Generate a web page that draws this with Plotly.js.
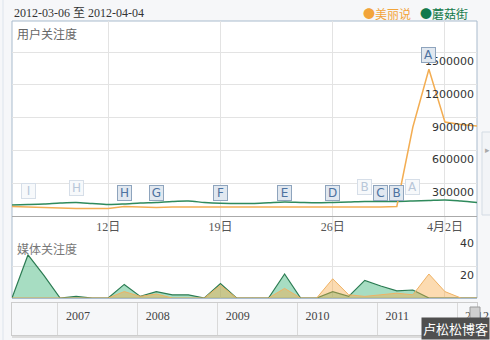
<!DOCTYPE html>
<html><head><meta charset="utf-8">
<script src="https://cdn.plot.ly/plotly-3.0.1.min.js"></script>
<style>html,body{margin:0;padding:0;background:#f6f7f9;}#chart{width:490px;height:340px;}</style>
</head><body><div id="chart"></div>
<script>
// ---- data ----
const dates = ['2012-03-06','2012-03-07','2012-03-08','2012-03-09','2012-03-10','2012-03-11','2012-03-12','2012-03-13','2012-03-14','2012-03-15',
  '2012-03-16','2012-03-17','2012-03-18','2012-03-19','2012-03-20','2012-03-21','2012-03-22','2012-03-23','2012-03-24','2012-03-25',
  '2012-03-26','2012-03-27','2012-03-28','2012-03-29','2012-03-30','2012-03-31','2012-04-01','2012-04-02','2012-04-03','2012-04-04'];
const seriesNames = ['美丽说','蘑菇街'];
// 用户关注度 (user attention)
const meilishuoUser = [87000,82000,73000,69000,69000,69000,69000,87000,82000,78000,
  82000,82000,78000,82000,82000,82000,80000,78000,78000,78000,
  78000,78000,80000,82000,87000,815000,1344000,861000,838000,824000];
const moguUser = [101000,105000,110000,119000,124000,114000,105000,110000,119000,124000,
  133000,137000,124000,116000,114000,114000,121000,128000,124000,121000,
  124000,128000,133000,133000,133000,137000,142000,147000,137000,124000];
// 媒体关注度 (media attention)
const meilishuoMedia = [0,0,0,0,0,0,0,4,1,2.5,0,0,0,8,0,0,0,6,0,0,12,2,1,2,3,2,15,4,0,0];
const moguMedia = [0,27,14,0,1,0,0,8.5,1,4,2,2,0,9,0,0,0,15,0,0,4,1,11,7.5,4.5,5,0,0,0,0];
// events
const eventLabels = ['I','H','H','G','F','E','D','B','C','B','A','A'];
const eventDates = ['2012-03-07','2012-03-10','2012-03-13','2012-03-15','2012-03-19','2012-03-23','2012-03-26','2012-03-28','2012-03-29','2012-03-30','2012-03-31','2012-04-01'];
const eventSeries = ['蘑菇街','蘑菇街','美丽说','美丽说','美丽说','美丽说','美丽说','蘑菇街','美丽说','美丽说','蘑菇街','美丽说'];
// axis ticks
const dayTicks = ['2012-03-12','2012-03-19','2012-03-26','2012-04-02'];
const dayTickText = ['12日','19日','26日','4月2日'];
const userTicks = [300000,600000,900000,1200000,1500000];
const mediaTicks = [20,40];
const yearTicks = ['2007-01-01','2008-01-01','2009-01-01','2010-01-01','2011-01-01','2012-01-01'];
const yearText = ['2007','2008','2009','2010','2011','2012'];
const titleText = '2012-03-06 至 2012-04-04';

// ---- styles ----
const W = 490, H = 340;
const px = v => v / W, py = v => 1 - v / H;
const ORANGE = '#f3ad52', GREEN = '#2f8a5c';
const serif = 'Liberation Serif, Noto Sans CJK SC, serif';
const cjk = 'Noto Sans CJK SC, sans-serif';
const num = 'DejaVu Sans, Verdana, sans-serif';

const traces = [
  {x: dates, y: moguUser, type: 'scatter', mode: 'lines', name: seriesNames[1], xaxis: 'x', yaxis: 'y',
   line: {color: GREEN, width: 1.5, shape: 'spline', smoothing: 0.8}, showlegend: false, hoverinfo: 'skip'},
  {x: dates, y: meilishuoUser, type: 'scatter', mode: 'lines', name: seriesNames[0], xaxis: 'x', yaxis: 'y',
   line: {color: ORANGE, width: 1.5}, showlegend: false, hoverinfo: 'skip'},
  {x: dates, y: moguMedia, type: 'scatter', mode: 'lines', name: seriesNames[1], xaxis: 'x2', yaxis: 'y2',
   fill: 'tozeroy', fillcolor: 'rgba(60,180,120,0.45)', line: {color: '#2b7b52', width: 1.2}, showlegend: false, hoverinfo: 'skip'},
  {x: dates, y: meilishuoMedia, type: 'scatter', mode: 'lines', name: seriesNames[0], xaxis: 'x2', yaxis: 'y2',
   fill: 'tozeroy', fillcolor: 'rgba(248,170,70,0.42)', line: {color: '#efb264', width: 1}, showlegend: false, hoverinfo: 'skip'},
  {x: [], y: [], type: 'scatter', xaxis: 'x3', yaxis: 'y3', showlegend: false}
];

const seriesMap = {'美丽说': meilishuoUser, '蘑菇街': moguUser};
const annotations = [];
eventLabels.forEach((lab, i) => {
  const idx = dates.indexOf(eventDates[i]);
  const bold = eventSeries[i] === '美丽说';
  annotations.push({
    x: eventDates[i], y: seriesMap[eventSeries[i]][idx], xref: 'x', yref: 'y',
    text: lab, showarrow: false, yanchor: 'bottom', yshift: 6,
    width: 11, height: 12, borderpad: 1, borderwidth: 1,
    bgcolor: bold ? '#e1e8f0' : '#f7f9fb', bordercolor: bold ? '#8ea4bd' : '#d6dee8',
    font: {family: num, size: 12, color: bold ? '#4d72a0' : '#b8c7d9'}
  });
});
annotations.push(
  {xref: 'paper', yref: 'paper', x: px(15), y: py(34), xanchor: 'left', yanchor: 'middle', showarrow: false,
   text: '用户关注度', font: {family: cjk, size: 12, color: '#666'}},
  {xref: 'paper', yref: 'paper', x: px(15), y: py(248), xanchor: 'left', yanchor: 'middle', showarrow: false,
   text: '媒体关注度', font: {family: cjk, size: 12, color: '#777'}},
  {xref: 'paper', yref: 'paper', x: px(413), y: py(14), xanchor: 'right', yanchor: 'middle', showarrow: false,
   text: '●' + seriesNames[0], font: {family: cjk, size: 12, color: '#f2a43a'}},
  {xref: 'paper', yref: 'paper', x: px(470), y: py(14), xanchor: 'right', yanchor: 'middle', showarrow: false,
   text: '●' + seriesNames[1], font: {family: cjk, size: 12, color: '#137a4b'}},
  {xref: 'paper', yref: 'paper', x: px(487), y: py(150), xanchor: 'center', yanchor: 'middle', showarrow: false,
   text: '▸', font: {family: num, size: 9, color: '#aaa'}},
  {xref: 'paper', yref: 'paper', x: 1, y: 0, xanchor: 'right', yanchor: 'bottom', showarrow: false,
   text: '卢松松博客', bgcolor: '#4f4f4f', borderpad: 1, font: {family: cjk, size: 13, color: '#ffffff'}}
);

const shapes = [
  {type: 'line', xref: 'paper', yref: 'paper', x0: px(3), x1: px(3), y0: 0, y1: 1, line: {color: '#dde4ec', width: 1}, layer: 'below'},
  {type: 'rect', xref: 'paper', yref: 'paper', x0: px(12), x1: px(477), y0: py(298), y1: py(21),
   fillcolor: '#ffffff', line: {color: '#a9bbcd', width: 1}, layer: 'below'},
  {type: 'rect', xref: 'paper', yref: 'paper', x0: px(482), x1: px(492), y0: py(215), y1: py(132),
   fillcolor: '#f2f4f7', line: {color: '#d3dbe4', width: 1}, layer: 'below'},
  {type: 'line', xref: 'paper', yref: 'paper', x0: px(12), x1: px(478), y0: py(337), y1: py(337), line: {color: '#dcdcdc', width: 2}, layer: 'below'},
  {type: 'rect', xref: 'paper', yref: 'paper', x0: px(470), x1: px(480), y0: py(328), y1: py(307),
   fillcolor: '#cfcfcf', line: {color: '#9a9a9a', width: 1}}
];
dayTicks.forEach(d => shapes.push({type: 'line', xref: 'x', yref: 'paper', x0: d, x1: d, y0: py(234), y1: py(216),
  line: {color: '#e3e3e3', width: 1}, layer: 'below'}));

const layout = {
  width: W, height: H, margin: {l: 0, r: 0, t: 0, b: 0},
  paper_bgcolor: '#f6f7f9', plot_bgcolor: 'rgba(0,0,0,0)',
  title: {text: titleText, x: px(14), xanchor: 'left', y: py(13), yanchor: 'middle', font: {family: serif, size: 12, color: '#333'}},
  showlegend: false,
  xaxis: {domain: [px(12), px(477)], anchor: 'y', type: 'date', range: [dates[0], dates[dates.length - 1]],
    tickmode: 'array', tickvals: dayTicks, ticktext: dayTickText, ticks: '', showgrid: true, gridcolor: '#e3e3e3',
    showline: true, linecolor: '#aaaaaa', zeroline: false, tickfont: {family: serif, size: 12, color: '#555'}},
  yaxis: {domain: [py(216), py(21)], anchor: 'x', range: [0, 1786000], side: 'right',
    tickmode: 'array', tickvals: userTicks, tickformat: 'd', ticks: '', showgrid: true, gridcolor: '#e3e3e3',
    zeroline: false, showline: false, ticklabelposition: 'inside', ticklabelshift: 9, ticklabeloverflow: 'allow',
    tickfont: {family: num, size: 11, color: '#333'}},
  xaxis2: {domain: [px(12), px(477)], anchor: 'y2', matches: 'x', type: 'date',
    tickmode: 'array', tickvals: dayTicks, showticklabels: false, ticks: '', showgrid: true, gridcolor: '#e3e3e3',
    showline: true, linecolor: '#a9bbcd', zeroline: false},
  yaxis2: {domain: [py(298), py(234)], anchor: 'x2', range: [0, 40], side: 'right',
    tickmode: 'array', tickvals: mediaTicks, ticks: '', showgrid: true, gridcolor: '#e3e3e3',
    zeroline: false, showline: false, ticklabelposition: 'inside', ticklabelshift: 9, ticklabeloverflow: 'allow',
    tickfont: {family: num, size: 11, color: '#333'}},
  xaxis3: {domain: [px(12), px(477)], anchor: 'y3', type: 'date', range: ['2006-06-05', '2012-04-01'],
    tickmode: 'array', tickvals: yearTicks, ticktext: yearText, ticks: '', showgrid: true, gridcolor: '#d9d9d9',
    showline: true, mirror: true, linecolor: '#cccccc', zeroline: false,
    ticklabelposition: 'inside', ticklabelshift: 20, ticklabelstandoff: 12, ticklabeloverflow: 'allow',
    tickfont: {family: serif, size: 12, color: '#444'}},
  yaxis3: {domain: [py(335), py(303)], anchor: 'x3', range: [0, 1], showticklabels: false, showgrid: false,
    zeroline: false, showline: true, mirror: true, linecolor: '#cccccc', ticks: ''},
  annotations: annotations, shapes: shapes
};

Plotly.newPlot('chart', traces, layout, {staticPlot: true, displayModeBar: false});
</script></body></html>
